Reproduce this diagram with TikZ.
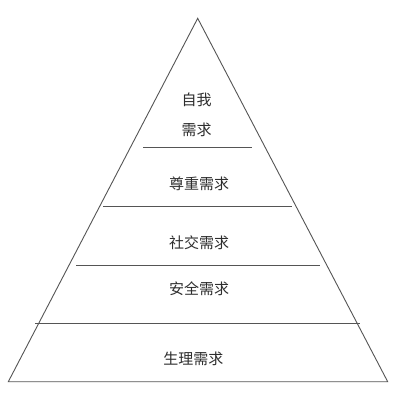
\documentclass[tikz,border=0pt]{standalone}
\usepackage{fontspec}
\usepackage{xcolor}
\usepackage{tikz}
\newfontfamily\cjk{Noto Sans CJK SC}
\definecolor{edge}{HTML}{555555}
\definecolor{ink}{HTML}{2E2E2E}
\tikzset{
  base/.style={draw=edge, line width=0.9pt, line join=miter},
  tier/.style={draw=edge, line width=0.9pt},
  lab/.style={text=ink, font=\cjk\fontsize{15}{17}\selectfont, inner sep=0pt},
}
\begin{document}
\begin{tikzpicture}[x=1pt,y=-1pt]
  \useasboundingbox (0,0) rectangle (401,410);
  \fill[white] (0,0) rectangle (401,410);
  % pyramid outline
  \coordinate (A) at (197.7,18.3);
  \coordinate (L) at (8.3,381.7);
  \coordinate (R) at (387.7,381.7);
  \draw[base] (A) -- (L) -- (R) -- cycle;
  % tier lines
  \draw[tier] (143.3,147.7) -- (251.7,147.7);
  \draw[tier] (103.3,206.3) -- (292.3,206.3);
  \draw[tier] (76,265) -- (320,265);
  \draw[tier] (35,323.3) -- (360,323.3);
  % labels
  \node[lab] (self1) at (196.7,100) {自我};
  \node[lab] (self2) at (196.7,130) {需求};
  \node[lab] (esteem) at (199,183.3) {尊重需求};
  \node[lab] (social) at (199,242.3) {社交需求};
  \node[lab] (safety) at (199,288.3) {安全需求};
  \node[lab] (body) at (193.3,359.3) {生理需求};
\end{tikzpicture}
\end{document}
